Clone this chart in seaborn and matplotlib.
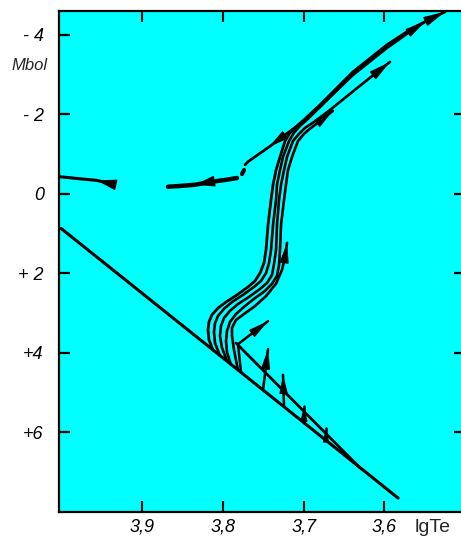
import matplotlib
matplotlib.use("Agg")
import matplotlib.pyplot as plt
import pandas as pd
import seaborn as sns

# ---- axis ranges and tick labels -------------------------------------------
x_range = [4.0027, 3.5052]          # lg Te, hot stars on the left
y_range = [8.0, -4.6]               # bolometric magnitude, bright at the top
x_ticks = [3.9, 3.8, 3.7, 3.6]
x_tick_labels = ["3,9", "3,8", "3,7", "3,6"]
y_ticks = [-4, -2, 0, 2, 4, 6]
y_tick_labels = ["- 4", "- 2", "0", "+ 2", "+4", "+6"]
y_ticks_right = [-2, 0, 2, 4, 6]

# ---- zero-age main sequence and upper edge of the main-sequence band -------
zams_lgte = [4.000, 3.583]
zams_mbol = [0.87, 7.65]
tams_lgte = [3.7836, 3.6302]
tams_mbol = [3.75, 6.89]

# ---- tracks that climb onto the giant branch --------------------------------
track1_lgte = [3.8121, 3.8171, 3.8183, 3.8171, 3.8134, 3.8059, 3.7960, 3.7824,
               3.7688, 3.7601, 3.7539, 3.7490, 3.7465, 3.7440, 3.7403, 3.7378,
               3.7341, 3.7292, 3.7230, 3.7168, 3.7081, 3.6982, 3.6797, 3.6389,
               3.5968, 3.5646, 3.5250]
track1_mbol = [3.93, 3.67, 3.42, 3.22, 3.04, 2.87, 2.72, 2.54, 2.34, 2.19,
               1.99, 1.74, 1.41, 0.78, 0.15, -0.23, -0.60, -0.93, -1.33, -1.54,
               -1.71, -1.89, -2.24, -3.07, -3.75, -4.18, -4.58]

track2_lgte = [3.8035, 3.8096, 3.8109, 3.8096, 3.8059, 3.7985, 3.7886, 3.7750,
               3.7614, 3.7527, 3.7465, 3.7428, 3.7403, 3.7378, 3.7341, 3.7329,
               3.7292, 3.7255, 3.7180, 3.7119, 3.7044, 3.6945, 3.6772, 3.6389,
               3.5968, 3.5683, 3.5497]
track2_mbol = [4.07, 3.75, 3.47, 3.25, 3.07, 2.89, 2.72, 2.54, 2.34, 2.19,
               1.99, 1.74, 1.41, 0.78, 0.15, -0.23, -0.60, -0.93, -1.33, -1.54,
               -1.71, -1.89, -2.24, -2.99, -3.67, -4.08, -4.33]

track3_lgte = [3.7948, 3.8010, 3.8035, 3.8022, 3.7985, 3.7911, 3.7812, 3.7675,
               3.7539, 3.7453, 3.7391, 3.7366, 3.7341, 3.7329, 3.7304, 3.7279,
               3.7242, 3.7205, 3.7131, 3.7057, 3.6982, 3.6871, 3.6674, 3.6302,
               3.5931]
track3_mbol = [4.20, 3.87, 3.57, 3.32, 3.12, 2.94, 2.77, 2.59, 2.39, 2.24,
               2.04, 1.76, 1.41, 0.78, 0.15, -0.23, -0.60, -0.93, -1.33, -1.51,
               -1.66, -1.81, -2.11, -2.72, -3.32]

track4_lgte = [3.7898, 3.7948, 3.7960, 3.7948, 3.7911, 3.7836, 3.7737, 3.7614,
               3.7478, 3.7391, 3.7329, 3.7304, 3.7292, 3.7279, 3.7242, 3.7218,
               3.7193, 3.7143, 3.7069, 3.6995, 3.6921, 3.6822, 3.6637]
track4_mbol = [4.30, 3.98, 3.70, 3.45, 3.22, 3.02, 2.84, 2.64, 2.44, 2.26,
               2.06, 1.79, 1.41, 0.78, 0.15, -0.23, -0.60, -0.93, -1.33, -1.51,
               -1.64, -1.79, -2.09]

track5_lgte = [3.7812, 3.7861, 3.7886, 3.7886, 3.7836, 3.7737, 3.7601, 3.7465,
               3.7341, 3.7267, 3.7230, 3.7205]
track5_mbol = [4.43, 3.93, 3.57, 3.37, 3.17, 3.02, 2.82, 2.57, 2.26, 1.91,
               1.59, 1.23]

# ---- short tracks leaving the main sequence ---------------------------------
short1_lgte = [3.7774, 3.7812, 3.7440]
short1_mbol = [4.49, 3.78, 3.20]
short2_lgte = [3.7502, 3.7440]
short2_mbol = [4.93, 3.90]
short3_lgte = [3.7242, 3.7255]
short3_mbol = [5.35, 4.55]
short4_lgte = [3.6995, 3.6995]
short4_mbol = [5.75, 5.33]
short5_lgte = [3.6723, 3.6723]
short5_mbol = [6.19, 5.89]

# ---- descent from the giant branch and the horizontal branch ---------------
descent_lgte = [3.5968, 3.6389, 3.6797, 3.6958, 3.7193, 3.7428, 3.7688, 3.7725]
descent_mbol = [-3.72, -3.02, -2.19, -1.89, -1.54, -1.18, -0.81, -0.73]
blob_lgte = [3.7737, 3.7762]
blob_mbol = [-0.60, -0.50]
hb_lgte = [3.7824, 3.7973, 3.8158, 3.8344, 3.8530, 3.8678]
hb_mbol = [-0.40, -0.35, -0.30, -0.23, -0.20, -0.18]
blue_lgte = [3.9371, 3.9560, 3.9767, 4.0100]
blue_mbol = [-0.25, -0.34, -0.38, -0.45]

# ---- figure ------------------------------------------------------------------
sns.set_theme(style="white")
plt.rcParams["font.family"] = ["Liberation Sans", "DejaVu Sans"]

fig = plt.figure(figsize=(4.61, 5.43), dpi=100)
fig.patch.set_facecolor("white")
ax = fig.add_axes([59 / 461, 31 / 543, 402 / 461, 501 / 543])
ax.set_facecolor("#00FFFF")

lines = [
    (zams_lgte, zams_mbol, 2.2),
    (tams_lgte, tams_mbol, 2.0),
    (track1_lgte, track1_mbol, 2.0),
    (track2_lgte, track2_mbol, 1.9),
    (track3_lgte, track3_mbol, 1.9),
    (track4_lgte, track4_mbol, 1.9),
    (track5_lgte, track5_mbol, 1.9),
    (short1_lgte, short1_mbol, 1.8),
    (short2_lgte, short2_mbol, 1.8),
    (short3_lgte, short3_mbol, 1.8),
    (short4_lgte, short4_mbol, 1.8),
    (short5_lgte, short5_mbol, 1.8),
    (descent_lgte, descent_mbol, 2.0),
    (blob_lgte, blob_mbol, 3.0),
    (hb_lgte, hb_mbol, 3.2),
    (blue_lgte, blue_mbol, 2.2),
]
for xs, ys, lw in lines:
    df = pd.DataFrame({"lgTe": xs, "Mbol": ys})
    sns.lineplot(data=df, x="lgTe", y="Mbol", sort=False, estimator=None,
                 color="black", linewidth=lw, solid_capstyle="round",
                 solid_joinstyle="round", ax=ax, legend=False)


def head(xs, ys, i, size=11, width=0.25):
    """Narrow arrowhead on segment i-1 -> i of a path."""
    style = f"-|>,head_length=1.1,head_width={width}"
    ax.annotate("", xy=(xs[i], ys[i]), xytext=(xs[i - 1], ys[i - 1]),
                arrowprops=dict(arrowstyle=style, color="black", lw=1.0,
                                shrinkA=0, shrinkB=0, mutation_scale=size))


head(track1_lgte, track1_mbol, len(track1_lgte) - 1, 12)
head(track2_lgte, track2_mbol, len(track2_lgte) - 1, 11)
head(track3_lgte, track3_mbol, len(track3_lgte) - 1, 12)
head(track4_lgte, track4_mbol, len(track4_lgte) - 1, 11)
head(track5_lgte, track5_mbol, len(track5_lgte) - 1, 11)
head(short1_lgte, short1_mbol, 2, 11)
head(short2_lgte, short2_mbol, 1, 11)
head(short3_lgte, short3_mbol, 1, 10)
head(short4_lgte, short4_mbol, 1, 8)
head(short5_lgte, short5_mbol, 1, 7)
head(descent_lgte, descent_mbol, 5, 11)
head(hb_lgte, hb_mbol, 3, 11, 0.3)
head(blue_lgte, blue_mbol, 1, 11, 0.3)

ax.set_xlim(*x_range)
ax.set_ylim(*y_range)
ax.set_xlabel("")
ax.set_ylabel("")

ax.set_xticks(x_ticks)
ax.set_xticklabels(x_tick_labels, fontsize=13, fontstyle="italic")
ax.set_yticks(y_ticks)
ax.set_yticklabels(y_tick_labels, fontsize=13, fontstyle="italic")
ax.tick_params(axis="x", which="both", direction="in", length=8, width=1.5,
               top=True, bottom=True, pad=5, colors="black")
ax.tick_params(axis="y", which="both", direction="in", length=8, width=1.6,
               left=True, right=False, pad=11, colors="black")

sec = ax.secondary_yaxis("right")
sec.set_yticks(y_ticks_right)
sec.tick_params(direction="in", length=5, width=1.6, labelright=False,
                colors="black")
sec.spines["right"].set_visible(False)

for side in ["left", "top", "bottom"]:
    ax.spines[side].set_visible(True)
    ax.spines[side].set_color("black")
    ax.spines[side].set_linewidth(1.6)
ax.spines["right"].set_visible(False)

fig.text(30 / 461, 1 - 66 / 543, "Mbol", fontsize=12, fontstyle="italic",
         ha="center", va="center")
fig.text(433 / 461, 1 - 528 / 543, "lgTe", fontsize=14,
         ha="center", va="center")

fig.savefig("out.png", dpi=100, facecolor="white")
